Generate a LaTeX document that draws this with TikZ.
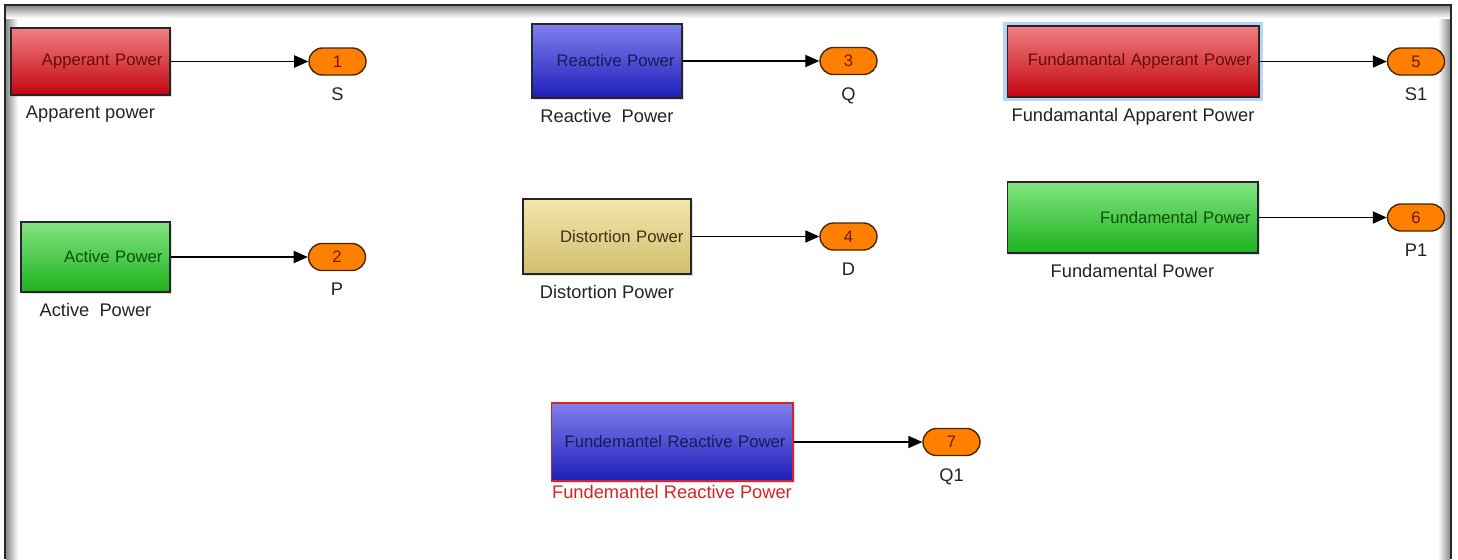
\documentclass[tikz,border=0pt]{standalone}
\usepackage{fontspec}
\setmainfont{Liberation Sans}
\usetikzlibrary{positioning,arrows.meta,shadows}

\definecolor{redtop}{RGB}{240,128,130}
\definecolor{redbot}{RGB}{195,5,15}
\definecolor{redtxt}{RGB}{105,10,10}
\definecolor{bluetop}{RGB}{128,128,238}
\definecolor{bluebot}{RGB}{30,30,185}
\definecolor{bluetxt}{RGB}{25,25,85}
\definecolor{greentop}{RGB}{130,228,130}
\definecolor{greenbot}{RGB}{30,178,30}
\definecolor{greentxt}{RGB}{10,80,10}
\definecolor{yeltop}{RGB}{242,230,172}
\definecolor{yelbot}{RGB}{210,190,110}
\definecolor{yeltxt}{RGB}{60,50,20}
\definecolor{portfill}{RGB}{255,128,0}
\definecolor{portdraw}{RGB}{75,40,5}
\definecolor{porttxt}{RGB}{110,25,0}
\definecolor{selblue}{RGB}{185,212,240}
\definecolor{labtxt}{RGB}{35,35,35}
\definecolor{labred}{RGB}{215,35,35}

\begin{document}
\begin{tikzpicture}[x=0.02cm,y=-0.02cm,
  block/.style={draw=black!85,line width=0.6pt,align=right,inner xsep=0.15cm,
    font=\fontsize{9.5}{11}\selectfont,
    drop shadow={opacity=0.25,shadow xshift=1pt,shadow yshift=-1pt}},
  redblock/.style={block,top color=redtop,bottom color=redbot,text=redtxt},
  blueblock/.style={block,top color=bluetop,bottom color=bluebot,text=bluetxt},
  greenblock/.style={block,top color=greentop,bottom color=greenbot,text=greentxt},
  yelblock/.style={block,top color=yeltop,bottom color=yelbot,text=yeltxt},
  outport/.style={draw=portdraw,line width=0.8pt,fill=portfill,rounded corners=0.27cm,
    minimum width=1.14cm,minimum height=0.54cm,inner sep=0pt,text=porttxt,
    font=\fontsize{9.5}{11}\selectfont},
  blocklabel/.style={text=labtxt,inner sep=1pt,font=\fontsize{10.4}{12}\selectfont},
  signal/.style={-{Triangle[length=8pt,width=7pt]},line width=0.6pt}]

  \useasboundingbox (0,0) rectangle (1458,559);

  % window frame with soft inner shade
  \fill[left color=black!45,right color=white] (6,6) rectangle (18,559);
  \fill[left color=white,right color=black!45] (1438,6) rectangle (1450,559);
  \fill[top color=black!45,bottom color=white] (6,6) rectangle (1450,18);
  \draw[line width=1.6pt,black!85] (5,559) -- (5,5) -- (1451,5) -- (1451,559);

  % left column
  \node [redblock,text width=2.88cm,minimum height=1.34cm] (blk-app) at (90.5,61.5) {Apperant Power};
  \node [outport] (out-s) at (337.5,61.5) {1};
  \node [blocklabel,below=0.17cm of blk-app] (lab-app) {Apparent power};
  \node [blocklabel,below=0.2cm of out-s] (sig-s) {S};

  \node [greenblock,text width=2.68cm,minimum height=1.40cm] (blk-act) at (95.5,257) {Active Power};
  \node [outport] (out-p) at (337,257) {2};
  \node [blocklabel,below=0.17cm of blk-act] (lab-act) {Active\ \ Power};
  \node [blocklabel,below=0.2cm of out-p] (sig-p) {P};

  % middle column
  \node [blueblock,text width=2.70cm,minimum height=1.48cm] (blk-rea) at (607,61) {Reactive Power};
  \node [outport] (out-q) at (848.5,61) {3};
  \node [blocklabel,below=0.17cm of blk-rea] (lab-rea) {Reactive\ \ Power};
  \node [blocklabel,below=0.2cm of out-q] (sig-q) {Q};

  \node [yelblock,text width=3.06cm,minimum height=1.50cm] (blk-dis) at (607,236.5) {Distortion Power};
  \node [outport] (out-d) at (848.5,236.5) {4};
  \node [blocklabel,below=0.17cm of blk-dis] (lab-dis) {Distortion Power};
  \node [blocklabel,below=0.2cm of out-d] (sig-d) {D};

  \node [blueblock,draw=labred,text width=4.54cm,minimum height=1.56cm] (blk-frea) at (672,442) {Fundemantel Reactive Power};
  \node [outport] (out-q1) at (951.5,442) {7};
  \node [blocklabel,text=labred,below=0.04cm of blk-frea] (lab-frea) {Fundemantel Reactive Power};
  \node [blocklabel,below=0.2cm of out-q1] (sig-q1) {Q1};

  % right column
  \node [redblock,preaction={draw=selblue,line width=5pt},text width=4.74cm,minimum height=1.42cm] (blk-fapp) at (1133,61.5) {Fundamantal Apperant Power};
  \node [outport] (out-s1) at (1416,61.5) {5};
  \node [blocklabel,below=0.17cm of blk-fapp] (lab-fapp) {Fundamantal Apparent Power};
  \node [blocklabel,below=0.2cm of out-s1] (sig-s1) {S1};

  \node [greenblock,text width=4.72cm,minimum height=1.42cm] (blk-fund) at (1132.5,217.5) {Fundamental Power};
  \node [outport] (out-p1) at (1416,217.5) {6};
  \node [blocklabel,below=0.17cm of blk-fund] (lab-fund) {Fundamental Power};
  \node [blocklabel,below=0.2cm of out-p1] (sig-p1) {P1};

  % signal lines
  \draw [signal] (blk-app) -- (out-s);
  \draw [signal] (blk-act) -- (out-p);
  \draw [signal] (blk-rea) -- (out-q);
  \draw [signal] (blk-dis) -- (out-d);
  \draw [signal] (blk-frea) -- (out-q1);
  \draw [signal] (blk-fapp) -- (out-s1);
  \draw [signal] (blk-fund) -- (out-p1);
\end{tikzpicture}
\end{document}
